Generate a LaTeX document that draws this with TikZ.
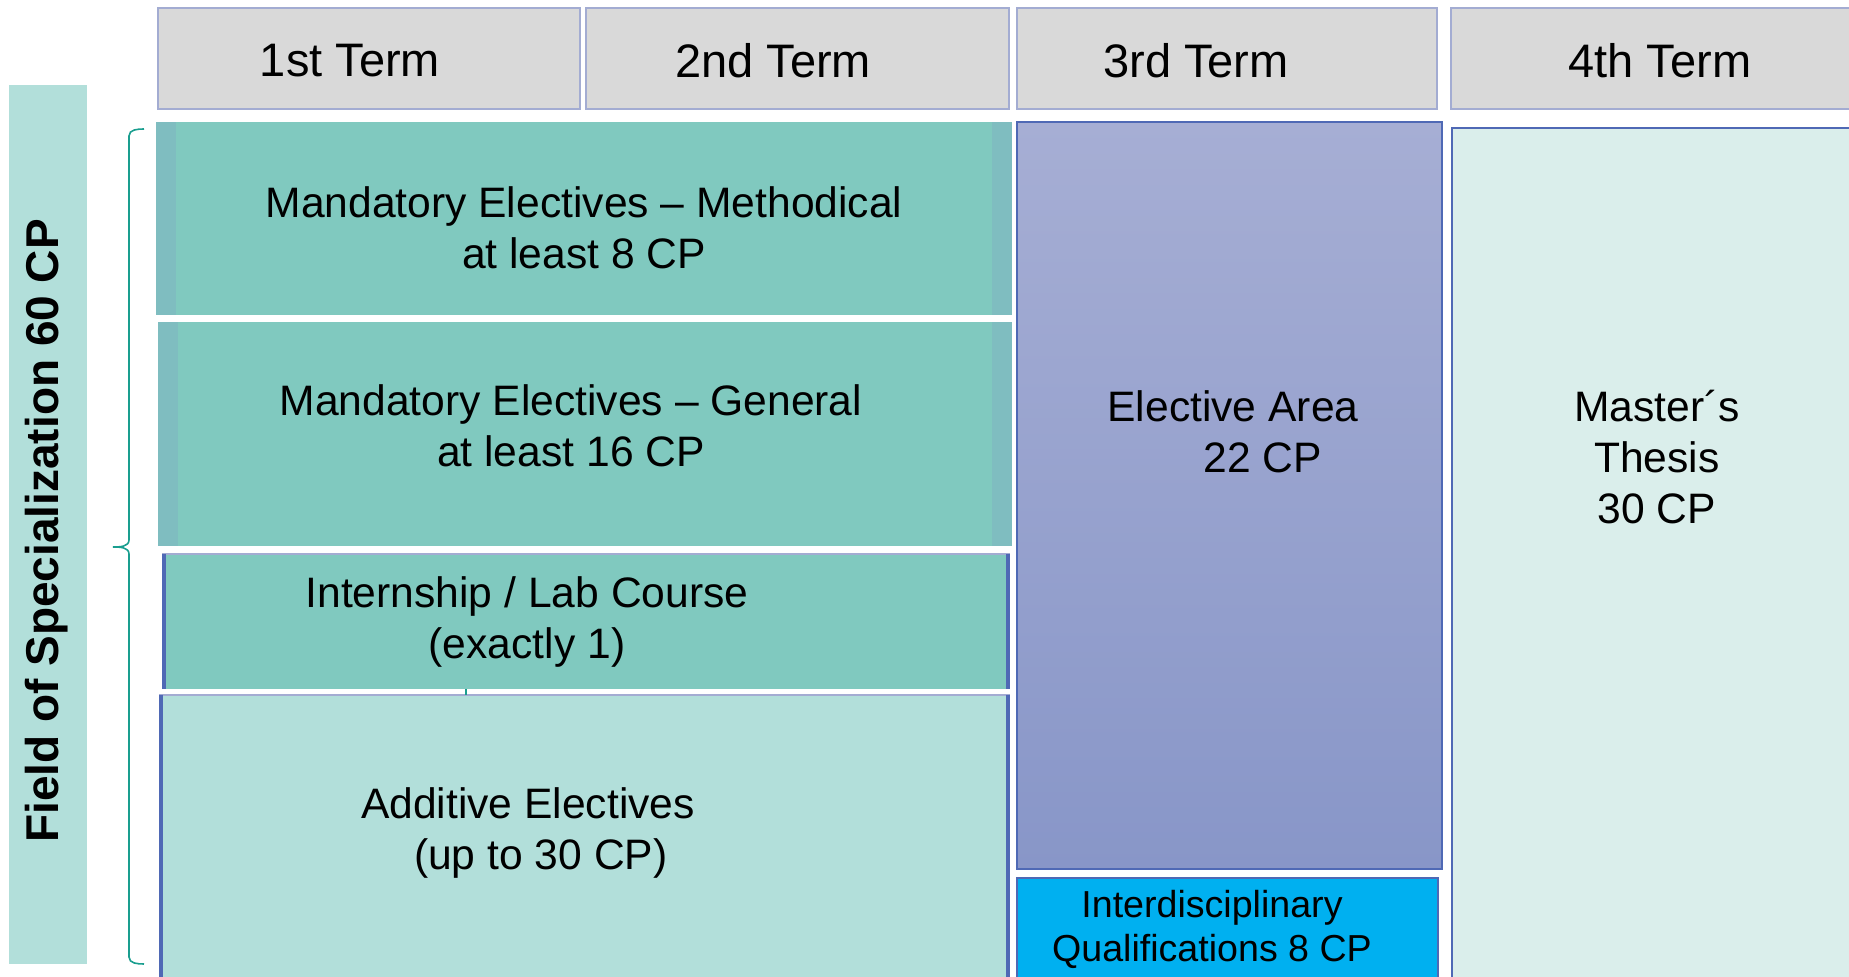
\documentclass[tikz,border=0pt]{standalone}
\usepackage{fontspec}
\setmainfont{Liberation Sans}
\definecolor{hdrgray}{HTML}{D9D9D9}
\definecolor{hdrline}{HTML}{A3ACD2}
\definecolor{tealmid}{HTML}{80C9BF}
\definecolor{tealstrip}{HTML}{7FBDC0}
\definecolor{teallight}{HTML}{B2DFDA}
\definecolor{thesisfill}{HTML}{DAEEEB}
\definecolor{elecTop}{HTML}{A6AED4}
\definecolor{elecBot}{HTML}{8896C8}
\definecolor{interfill}{HTML}{00B0F0}
\definecolor{edgeblue}{HTML}{4F69B5}
\definecolor{bracecol}{HTML}{1A9E8F}
\tikzset{
  hdrbox/.style={fill=hdrgray, draw=hdrline, line width=0.6pt},
  hdrtxt/.style={font=\fontsize{23.5}{28}\selectfont, inner sep=0pt},
  boxtxt/.style={font=\fontsize{21.3}{25.5}\selectfont, align=center, inner sep=0pt},
  thinedge/.style={draw=edgeblue, line width=0.7pt},
  thickedge/.style={draw=edgeblue, line width=2pt}
}
\begin{document}
\begin{tikzpicture}[x=0.5pt, y=-0.5pt]
\useasboundingbox (0,0) rectangle (1849,977);
\clip (0,0) rectangle (1849,977);
% term headers
\draw [hdrbox] (158,8) rectangle (580,109);
\draw [hdrbox] (586,8) rectangle (1009,109);
\draw [hdrbox] (1017,8) rectangle (1437,109);
\draw [hdrbox] (1451,8) rectangle (1870,109);
\draw (350,61) node [hdrtxt] (t1) {1st Term};
\draw (773,61) node [hdrtxt] (t2) {2nd Term};
\draw (1196,61) node [hdrtxt] (t3) {3rd Term};
\draw (1660,61) node [hdrtxt] (t4) {4th Term};
% field of specialization
\fill [teallight] (9,85) rectangle (87,964);
\draw (47,531) node [rotate=90, inner sep=0pt, font=\fontsize{23}{27}\selectfont\bfseries] (fos) {Field of Specialization 60 CP};
\draw [bracecol, line width=0.8pt] (144,129) to[out=180,in=90] (129,136) -- (129,540)
  to[out=-90,in=0] (113,547) to[out=0,in=90] (129,554) -- (129,957) to[out=-90,in=180] (144,964);
% mandatory electives
\fill [tealmid] (156,122) rectangle (1012,315);
\fill [tealstrip] (156,122) rectangle (176,315);
\fill [tealstrip] (992,122) rectangle (1012,315);
\draw (584,228) node [boxtxt] (meth) {Mandatory Electives -- Methodical\\at least 8 CP};
\fill [tealmid] (158,322) rectangle (1012,546);
\fill [tealstrip] (158,322) rectangle (178,546);
\fill [tealstrip] (992,322) rectangle (1012,546);
\draw (571,426) node [boxtxt] (gen) {Mandatory Electives -- General\\at least 16 CP};
% internship
\fill [tealmid] (162,554) rectangle (1010,689);
\draw [hdrline, line width=0.7pt] (162,554) -- (1010,554);
\draw [thickedge] (164,554) -- (164,689);
\draw [thickedge] (1008,554) -- (1008,689);
\draw (527,622) node [boxtxt] (intern) {Internship / Lab Course\\(exactly 1)};
% additive electives
\fill [teallight] (159,695) rectangle (1010,990);
\draw [hdrline, line width=0.7pt] (159,695) -- (1010,695);
\draw [thickedge] (161,695) -- (161,990);
\draw [thickedge] (1008,695) -- (1008,990);
\draw [bracecol, line width=0.8pt] (466,689) -- (466,695);
\draw (528,833) node [boxtxt] (addit) {Additive Electives\\\hspace*{0.6em}(up to 30 CP)};
% elective area and interdisciplinary qualifications
\shade [top color=elecTop, bottom color=elecBot] (1017,122) rectangle (1442,869);
\draw [thinedge] (1017,122) rectangle (1442,869);
\draw (1233,432) node [boxtxt] (elect) {Elective Area\\\hspace*{1.4em}22 CP};
\draw [thinedge, fill=interfill] (1017,878) rectangle (1438,990);
\draw (1212,929) node [boxtxt, font=\fontsize{18.8}{22}\selectfont] (inter) {Interdisciplinary\\Qualifications 8 CP};
% master's thesis
\draw [thinedge, fill=thesisfill] (1452,128) rectangle (1870,990);
\draw (1657,457) node [boxtxt] (thesis) {Master´s\\Thesis\\30 CP};
\end{tikzpicture}
\end{document}
